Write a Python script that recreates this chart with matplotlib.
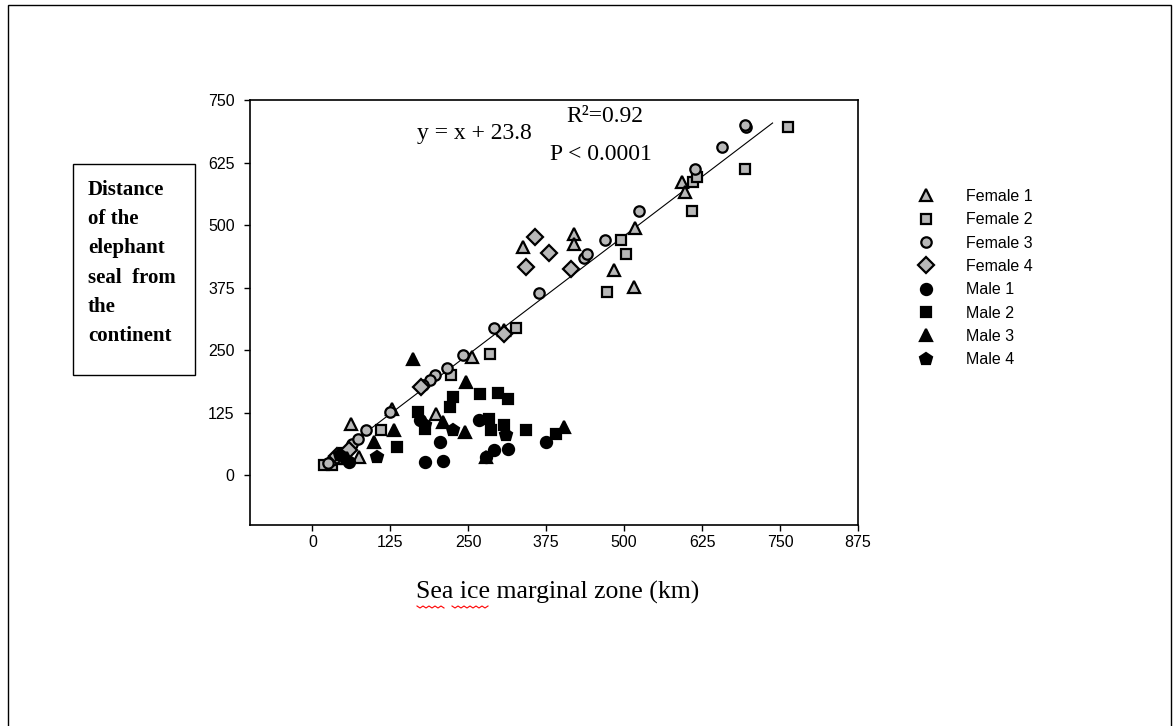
import matplotlib
matplotlib.use("Agg")
import matplotlib.pyplot as plt
from matplotlib.patches import Rectangle
from matplotlib.lines import Line2D
import numpy as np

W, H = 1175, 726

# ---- data (km) ----
female1_x = [593, 597, 518, 484, 515, 337, 419, 419, 307, 256, 127, 62, 75, 199, 40]
female1_y = [586, 567, 495, 410, 377, 457, 483, 462, 291, 237, 133, 103, 37, 123, 35]

female2_x = [762, 694, 610, 617, 609, 495, 503, 473, 327, 285, 222, 110, 19, 32, 50]
female2_y = [696, 613, 586, 597, 528, 470, 442, 366, 294, 242, 201, 90, 20, 20, 45]

female3_x = [696, 694, 657, 614, 524, 470, 435, 441, 364, 292, 241, 216, 197, 188,
             178, 124, 86, 32, 48, 64, 73, 25]
female3_y = [696, 700, 656, 612, 528, 470, 434, 442, 365, 295, 241, 215, 200, 191,
             180, 126, 90, 30, 43, 63, 73, 25]

female4_x = [357, 380, 343, 415, 307, 174, 59, 40]
female4_y = [477, 444, 417, 413, 283, 177, 50, 38]

male1_x = [180, 209, 204, 375, 313, 292, 279, 268, 172, 59]
male1_y = [27, 28, 67, 67, 53, 50, 37, 110, 110, 27]

male2_x = [226, 269, 297, 313, 220, 169, 284, 308, 343, 391, 136, 287, 180]
male2_y = [157, 162, 164, 153, 136, 126, 113, 100, 90, 83, 57, 90, 93]

male3_x = [161, 246, 209, 244, 404, 99, 131, 279, 55]
male3_y = [233, 187, 107, 87, 97, 67, 90, 37, 35]

male4_x = [225, 311, 104, 180, 45]
male4_y = [90, 80, 37, 100, 40]

fit_x = [15, 738]
fit_y = [18, 704]

x_ticks = [0, 125, 250, 375, 500, 625, 750, 875]
y_ticks = [0, 125, 250, 375, 500, 625, 750]

label_lines = ["Distance", "of the", "elephant", "seal  from", "the", "continent"]

GRAY = "#b8b8b8"


def fx(px):
    return px / W


def fy(py):
    return 1 - py / H


fig = plt.figure(figsize=(W / 100, H / 100), dpi=100)
fig.patch.set_facecolor("white")

# outer frame of the picture
fig.add_artist(Rectangle((fx(8), fy(740)), fx(1171) - fx(8), fy(5) - fy(740),
                         transform=fig.transFigure, fill=False,
                         edgecolor="black", lw=1.0))

ax = fig.add_axes([fx(250), fy(525), fx(858) - fx(250), fy(100) - fy(525)])

series = [
    ("Female 1", female1_x, female1_y, "^", 9.0, GRAY),
    ("Female 2", female2_x, female2_y, "s", 6.5, GRAY),
    ("Female 3", female3_x, female3_y, "o", 7.5, GRAY),
    ("Female 4", female4_x, female4_y, "D", 8.0, GRAY),
    ("Male 1", male1_x, male1_y, "o", 8.0, "black"),
    ("Male 2", male2_x, male2_y, "s", 7.5, "black"),
    ("Male 3", male3_x, male3_y, "^", 9.0, "black"),
    ("Male 4", male4_x, male4_y, "p", 9.0, "black"),
]

ax.plot(fit_x, fit_y, color="black", lw=0.8, zorder=2)

handles = []
for name, xs, ys, mk, ms, fc in series:
    h, = ax.plot(xs, ys, linestyle="none", marker=mk, ms=ms, mfc=fc,
                 mec="black", mew=1.6, label=name, zorder=3)
    handles.append(h)

ax.set_xlim(-100, 875)
ax.set_ylim(-100, 750)
ax.set_xticks(x_ticks)
ax.set_yticks(y_ticks)
ax.tick_params(direction="out", length=4, width=1, labelsize=11.5,
               colors="black")
ax.tick_params(axis="y", pad=7)
ax.tick_params(axis="x", pad=3)
for sp in ax.spines.values():
    sp.set_linewidth(1.2)
for lbl in ax.get_xticklabels() + ax.get_yticklabels():
    lbl.set_family("Liberation Sans")

serif = "Liberation Serif"
ax.text(fx(474), fy(134), "y = x + 23.8", transform=fig.transFigure,
        ha="center", va="center", family=serif, fontsize=17)
ax.text(fx(605), fy(117), "R²=0.92", transform=fig.transFigure,
        ha="center", va="center", family=serif, fontsize=17)
ax.text(fx(601), fy(155), "P < 0.0001", transform=fig.transFigure,
        ha="center", va="center", family=serif, fontsize=17)

# x label with the spell-check squiggles under it
fig.text(fx(558), fy(592), "Sea ice marginal zone (km)", ha="center",
         va="center", family=serif, fontsize=18.5)
for x0, x1 in [(417, 445), (452, 490)]:
    zx = np.arange(x0, x1 + 1, 3)
    zy = np.where(np.arange(len(zx)) % 2 == 0, 606, 608)
    fig.add_artist(Line2D(fx(zx), fy(zy), transform=fig.transFigure,
                          color="red", lw=0.8))

# y label in its box
fig.add_artist(Rectangle((fx(73), fy(375)), fx(195) - fx(73), fy(164) - fy(375),
                         transform=fig.transFigure, fill=False,
                         edgecolor="black", lw=1.0))
for i, line in enumerate(label_lines):
    fig.text(fx(88), fy(190 + i * 29.2), line, ha="left", va="center",
             family=serif, fontweight="bold", fontsize=15)

leg = ax.legend(handles=handles, loc="upper left",
                bbox_to_anchor=(fx(918), fy(189)),
                bbox_transform=fig.transFigure, frameon=False,
                prop={"family": "Liberation Sans", "size": 11.5},
                handlelength=1.0, handletextpad=2.0, labelspacing=0.52,
                borderpad=0, borderaxespad=0)

fig.savefig("out.png", dpi=100, facecolor="white")
